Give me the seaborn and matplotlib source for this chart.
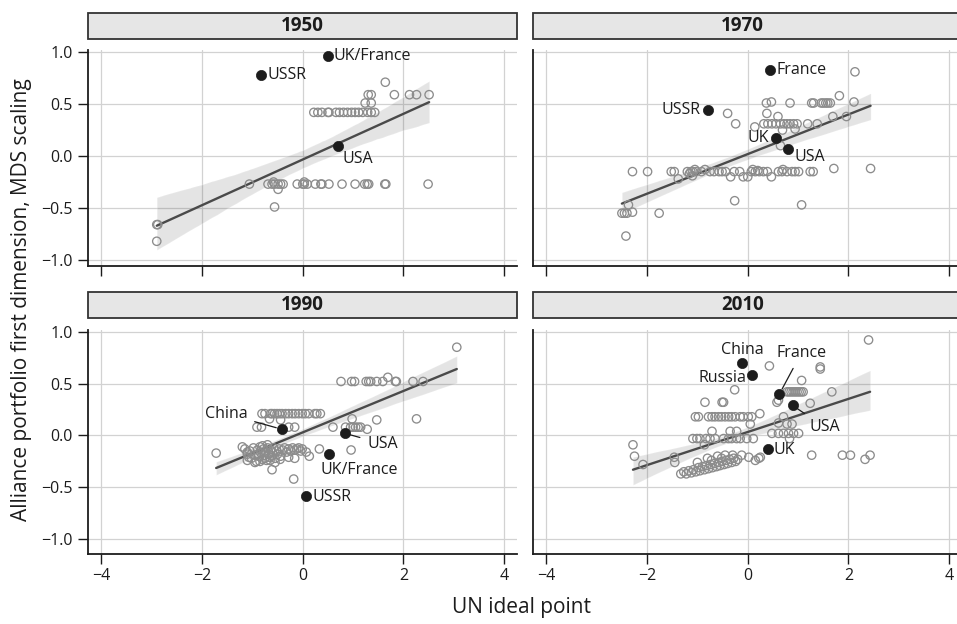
import numpy as np
import pandas as pd
import matplotlib
matplotlib.use("Agg")
import matplotlib.pyplot as plt
from matplotlib.patches import Rectangle
import seaborn as sns

# ---------------------------------------------------------------- data
years = ["1950", "1970", "1990", "2010"]

# 1950: other states
x_1950 = [1.64, 1.30, 1.36, 1.82, 2.12, 2.26, 2.51, 1.24, 1.36,
          0.22, 0.30, 0.38, 0.50, 0.52, 0.66, 0.73, 0.81, 0.89, 0.97, 1.04, 1.11, 1.19, 1.29, 1.36, 1.43,
          -1.06, -0.69, -0.61, -0.56, -0.49, -0.44, -0.39, -0.11, 0.00, 0.03, 0.09, 0.25, 0.36, 0.38,
          0.52, 0.78, 1.04, 1.23, 1.28, 1.31, 1.63, 1.65, 2.49,
          -0.58, 0.03, -0.49, -0.56, -2.90, -2.88, -2.90]
y_1950 = [0.71, 0.59, 0.59, 0.59, 0.59, 0.59, 0.59, 0.51, 0.51,
          0.42, 0.42, 0.42, 0.42, 0.42, 0.42, 0.42, 0.42, 0.42, 0.42, 0.42, 0.42, 0.42, 0.42, 0.42, 0.42,
          -0.27, -0.27, -0.27, -0.27, -0.27, -0.27, -0.27, -0.27, -0.27, -0.27, -0.27, -0.27, -0.27, -0.27,
          -0.27, -0.27, -0.27, -0.27, -0.27, -0.27, -0.27, -0.27, -0.27,
          -0.25, -0.25, -0.32, -0.49, -0.66, -0.66, -0.82]

# 1970: other states
x_1970 = [2.13, 1.82, 2.11, 0.37, 0.47, 0.84, 1.27, 1.31, 1.46, 1.50, 1.55, 1.59, 1.64,
          -0.40, 0.38, 0.60, -0.24, 0.14, 0.32, 0.40, 0.48, 0.56, 0.65, 0.72, 0.78, 0.84, 0.91, 0.98,
          1.19, 1.38, 1.69, 1.96, 0.69, 0.94, 0.65,
          -2.29, -1.99, -1.52, -1.46, -1.38, -1.20, -1.13, -1.09, -1.03, -0.92, -0.75, -0.67, -0.57,
          -0.51, -0.44, -0.34, -0.27, -0.16, -0.09, 0.00, 0.07, 0.15, 0.23, 0.31, 0.39, 0.47, 0.61,
          0.68, 0.78, 0.88, 0.94, 1.01, 1.24, 1.30, 1.71, 2.44, -1.16, -1.10, -1.05, -0.85, 0.10,
          0.20, 0.70,
          -0.26, 1.07, -2.37, -2.50, -2.45, -2.40, -2.29, -1.76, -2.42]
y_1970 = [0.81, 0.58, 0.52, 0.51, 0.52, 0.51, 0.51, 0.51, 0.51, 0.51, 0.51, 0.51, 0.51,
          0.41, 0.41, 0.38, 0.31, 0.28, 0.31, 0.31, 0.31, 0.31, 0.31, 0.31, 0.31, 0.31, 0.31, 0.31,
          0.31, 0.31, 0.38, 0.38, 0.25, 0.26, 0.10,
          -0.15, -0.15, -0.15, -0.15, -0.22, -0.15, -0.15, -0.15, -0.15, -0.15, -0.15, -0.15, -0.15,
          -0.15, -0.15, -0.20, -0.15, -0.15, -0.20, -0.20, -0.15, -0.15, -0.15, -0.15, -0.15, -0.20,
          -0.15, -0.15, -0.15, -0.15, -0.15, -0.15, -0.15, -0.15, -0.12, -0.12, -0.17, -0.19, -0.13,
          -0.13, -0.13, -0.14, -0.13,
          -0.43, -0.47, -0.47, -0.55, -0.55, -0.55, -0.54, -0.55, -0.77]

# 1990: other states
x_1990 = [3.06, 0.76, 0.97, 1.03, 1.26, 1.31, 1.35, 1.47, 1.59, 1.84, 1.86, 2.19, 2.39, 1.69,
          2.26, 1.47, 0.98,
          -0.81, -0.75, -0.64, -0.61, -0.56, -0.51, -0.46, -0.41, -0.34, -0.28, -0.21, -0.15, -0.08,
          -0.01, 0.05, 0.12, 0.24, 0.28, 0.35, -0.66, -0.44,
          -0.91, -0.82, -0.28, -0.16, 0.60, 0.85, 0.95, 1.00, 1.05, 1.10, 1.15, 1.28,
          -1.15, -1.10, -1.05, -1.02, -0.98, -0.95, -0.92, -0.90, -0.88, -0.85, -0.83, -0.80, -0.78,
          -0.76, -0.74, -0.72, -0.70, -0.68, -0.66, -0.64, -0.62, -0.60, -0.58, -0.55, -0.52, -0.50,
          -0.47, -0.44, -0.40, -0.36, -0.32, -0.28, -0.24, -0.20, -0.16, -0.12, -0.08, -0.04,
          -0.95, -0.85, -0.75, -0.65, -0.55, -0.45, -0.80, -0.70,
          -1.72, -1.20, -1.10, -1.07, -1.10, -0.61, -0.18, -0.28, -0.16, -0.01, 0.07, 0.13, 0.33, 0.96]
y_1990 = [0.85, 0.52, 0.52, 0.52, 0.52, 0.52, 0.52, 0.52, 0.52, 0.52, 0.52, 0.52, 0.52, 0.56,
          0.16, 0.15, 0.16,
          0.21, 0.21, 0.21, 0.21, 0.21, 0.21, 0.21, 0.21, 0.21, 0.21, 0.21, 0.21, 0.21,
          0.21, 0.21, 0.21, 0.21, 0.21, 0.21, 0.16, 0.15,
          0.08, 0.08, 0.08, 0.08, 0.08, 0.08, 0.08, 0.08, 0.08, 0.08, 0.08, 0.06,
          -0.13, -0.18, -0.15, -0.22, -0.12, -0.19, -0.25, -0.14, -0.20, -0.11, -0.17, -0.23, -0.13,
          -0.19, -0.16, -0.24, -0.12, -0.18, -0.21, -0.14, -0.20, -0.16, -0.12, -0.22, -0.15, -0.18,
          -0.13, -0.20, -0.14, -0.12, -0.16, -0.13, -0.15, -0.12, -0.14, -0.13, -0.12, -0.15,
          -0.26, -0.25, -0.22, -0.24, -0.26, -0.23, -0.10, -0.09,
          -0.17, -0.11, -0.16, -0.21, -0.24, -0.33, -0.42, -0.21, -0.22, -0.13, -0.16, -0.20, -0.13, -0.14]

# 2010: other states
x_2010 = [2.40, 0.43, 1.44, 1.44, 1.07,
          0.78, 0.82, 0.86, 0.90, 0.94, 0.98, 1.02, 1.06, 1.10, 1.67,
          -0.26, 0.58, 0.61, 1.24, -0.85, -0.51, -0.48,
          -1.04, -0.98, -0.78, -0.71, -0.65, -0.58, -0.52, -0.45, -0.38, -0.32, -0.25, -0.15, -0.09,
          0.01, 0.08, 0.24, 0.05,
          0.71, 0.61, 0.78, 0.88, 0.83,
          0.48, 0.61, 0.71, 0.81, 0.91, 1.01,
          -1.09, -1.01, -0.95, -0.83, -0.75, -0.65, -0.48, -0.38, -0.32, -0.22, -0.15, -0.02, 0.11,
          -0.71, -0.35, -0.22, -0.86,
          -2.28, -2.25, -2.08, -1.46, -1.45,
          1.27, 1.88, 2.04, 2.33, 2.43,
          0.15, 0.22, 0.25, 0.02, -0.12,
          -1.33, -1.27, -1.22, -1.17, -1.12, -1.08, -1.03, -0.98, -0.95, -0.90, -0.86, -0.82, -0.78,
          -0.74, -0.70, -0.66, -0.62, -0.58, -0.55, -0.51, -0.47, -0.43, -0.40, -0.36, -0.32, -0.28,
          -0.24, -0.20, -0.80, -0.60, -0.45, -0.30, -1.00, -0.72, -0.52]
y_2010 = [0.92, 0.67, 0.66, 0.64, 0.53,
          0.42, 0.42, 0.42, 0.42, 0.42, 0.42, 0.42, 0.42, 0.42, 0.42,
          0.44, 0.32, 0.34, 0.31, 0.32, 0.32, 0.32,
          0.18, 0.18, 0.18, 0.18, 0.18, 0.18, 0.18, 0.18, 0.18, 0.18, 0.18, 0.18, 0.18,
          0.18, 0.18, 0.21, 0.11,
          0.18, 0.12, 0.11, 0.11, -0.03,
          0.02, 0.02, 0.02, 0.02, 0.02, 0.02,
          -0.03, -0.03, -0.03, -0.03, -0.03, -0.03, -0.03, -0.03, -0.03, -0.03, -0.03, -0.03, -0.03,
          0.04, 0.04, 0.04, -0.09,
          -0.09, -0.20, -0.28, -0.21, -0.26,
          -0.19, -0.19, -0.19, -0.23, -0.19,
          -0.24, -0.22, -0.21, -0.21, -0.19,
          -0.37, -0.35, -0.37, -0.34, -0.36, -0.33, -0.35, -0.31, -0.34, -0.30, -0.33, -0.29, -0.32,
          -0.28, -0.31, -0.27, -0.30, -0.26, -0.29, -0.25, -0.28, -0.24, -0.27, -0.23, -0.26, -0.22,
          -0.25, -0.23, -0.22, -0.20, -0.19, -0.19, -0.26, -0.24, -0.22]

# great powers, highlighted and labelled
names_1950 = ["UK/France", "USSR", "USA"]
gx_1950 = [0.50, -0.83, 0.71]
gy_1950 = [0.96, 0.78, 0.10]

names_1970 = ["France", "USSR", "UK", "USA"]
gx_1970 = [0.45, -0.78, 0.56, 0.79]
gy_1970 = [0.83, 0.44, 0.17, 0.07]

names_1990 = ["China", "USA", "UK/France", "USSR"]
gx_1990 = [-0.42, 0.84, 0.52, 0.07]
gy_1990 = [0.06, 0.02, -0.18, -0.58]

names_2010 = ["China", "Russia", "France", "USA", "UK"]
gx_2010 = [-0.11, 0.09, 0.63, 0.89, 0.40]
gy_2010 = [0.70, 0.58, 0.40, 0.29, -0.13]

x_ticks = [-4, -2, 0, 2, 4]
y_ticks = [-1.0, -0.5, 0.0, 0.5, 1.0]

others = {"1950": (x_1950, y_1950), "1970": (x_1970, y_1970),
          "1990": (x_1990, y_1990), "2010": (x_2010, y_2010)}
powers = {"1950": (names_1950, gx_1950, gy_1950), "1970": (names_1970, gx_1970, gy_1970),
          "1990": (names_1990, gx_1990, gy_1990), "2010": (names_2010, gx_2010, gy_2010)}

# label placement: (text x, text y, horizontal alignment, leader line)
label_pos = {
    "1950": [(0.62, 0.96, "left", False), (-0.71, 0.78, "left", False), (0.79, -0.03, "left", False)],
    "1970": [(0.57, 0.83, "left", False), (-0.93, 0.44, "right", False),
             (0.43, 0.17, "right", False), (0.93, -0.01, "left", False)],
    "1990": [(-1.10, 0.21, "right", True), (1.28, -0.08, "left", True),
             (1.12, -0.33, "center", False), (0.20, -0.59, "left", False)],
    "2010": [(-0.11, 0.82, "center", False), (-0.03, 0.55, "right", False),
             (1.06, 0.79, "center", True), (1.22, 0.08, "left", True), (0.52, -0.14, "left", False)],
}

# ---------------------------------------------------------------- style
sns.set_theme(style="white")
plt.rcParams["font.family"] = ["Open Sans", "DejaVu Sans"]
plt.rcParams["axes.unicode_minus"] = True

INK = "#1c1c1c"
W, H = 957, 624
fig = plt.figure(figsize=(W / 100, H / 100), dpi=100)

# pixel boxes of the four panels: (left, top, right, bottom)
boxes = {"1950": (88.3, 50.0, 516.7, 266.0), "1970": (533.3, 50.0, 961.7, 266.0),
         "1990": (88.3, 330.0, 516.7, 554.3), "2010": (533.3, 330.0, 961.7, 554.3)}
strips = {"1950": (12.7, 39.0), "1970": (12.7, 39.0), "1990": (291.7, 318.3), "2010": (291.7, 318.3)}
ylims = {"1950": (-1.058, 1.02), "1970": (-1.058, 1.02), "1990": (-1.145, 1.016), "2010": (-1.145, 1.016)}

for yr in years:
    l, t, r, b = boxes[yr]
    ax = fig.add_axes([l / W, 1 - b / H, (r - l) / W, (b - t) / H])
    ox, oy = others[yr]
    nm, gx, gy = powers[yr]
    allx = np.array(ox + gx)
    ally = np.array(oy + gy)

    ax.grid(True, color="#d2d2d2", lw=0.9)
    ax.set_axisbelow(True)

    sns.regplot(x=allx, y=ally, scatter=False, ci=95, seed=3, ax=ax,
                color="#4a4a4a", line_kws=dict(lw=1.7, zorder=3))
    sns.scatterplot(x=ox, y=oy, ax=ax, s=36, marker="o", facecolor="none",
                    edgecolor="#8c8c8c", linewidth=0.95, zorder=4)
    sns.scatterplot(x=gx, y=gy, ax=ax, s=54, marker="o", color=INK,
                    edgecolor=INK, linewidth=0.5, zorder=5)

    for (name, px, py), (tx, ty, ha, lead) in zip(zip(nm, gx, gy), label_pos[yr]):
        if lead:
            ax.annotate(name, xy=(px, py), xytext=(tx, ty), ha=ha, va="center",
                        fontsize=11.5, color=INK, zorder=6,
                        arrowprops=dict(arrowstyle="-", color=INK, lw=0.9,
                                        shrinkA=3, shrinkB=4))
        else:
            ax.text(tx, ty, name, ha=ha, va="center", fontsize=11.5, color=INK, zorder=6)

    ax.set_xlim(-4.26, 4.25)
    ax.set_ylim(*ylims[yr])
    ax.set_xticks(x_ticks)
    ax.set_yticks(y_ticks)
    ax.set_xlabel("")
    ax.set_ylabel("")
    for side in ("top", "right"):
        ax.spines[side].set_visible(False)
    for side in ("left", "bottom"):
        ax.spines[side].set_color(INK)
        ax.spines[side].set_linewidth(1.3)

    left_col = yr in ("1950", "1990")
    bottom_row = yr in ("1990", "2010")
    ax.tick_params(axis="x", direction="out", length=7, width=1.0, color=INK,
                   labelsize=11.5, labelcolor=INK, pad=3, bottom=True,
                   labelbottom=bottom_row)
    ax.tick_params(axis="y", direction="out", length=7, width=1.0, color=INK,
                   labelsize=11.5, labelcolor=INK, pad=4, left=left_col,
                   labelleft=left_col)
    if left_col:
        ax.set_yticklabels([f"{v:.1f}".replace("-", "\u2212") for v in y_ticks])
    if bottom_row:
        ax.set_xticklabels([f"{v}".replace("-", "\u2212") for v in x_ticks])

    # facet strip
    st, sb = strips[yr]
    fig.add_artist(Rectangle((l / W, 1 - sb / H), (r - l) / W, (sb - st) / H,
                             transform=fig.transFigure, facecolor="#e6e6e6",
                             edgecolor="#333333", lw=1.3))
    cx = (l + r) / 2 - (5 if r > W else 0)
    fig.text(cx / W, 1 - (st + sb) / 2 / H, yr, ha="center", va="center",
             fontsize=13.5, fontweight="bold", color=INK)

fig.text(522 / W, 1 - 607 / H, "UN ideal point", ha="center", va="center",
         fontsize=15, color=INK)
fig.text(22 / W, 1 - 300 / H, "Alliance portfolio first dimension, MDS scaling",
         ha="center", va="center", rotation=90, fontsize=15, color=INK)

fig.savefig("out.png", dpi=100)
